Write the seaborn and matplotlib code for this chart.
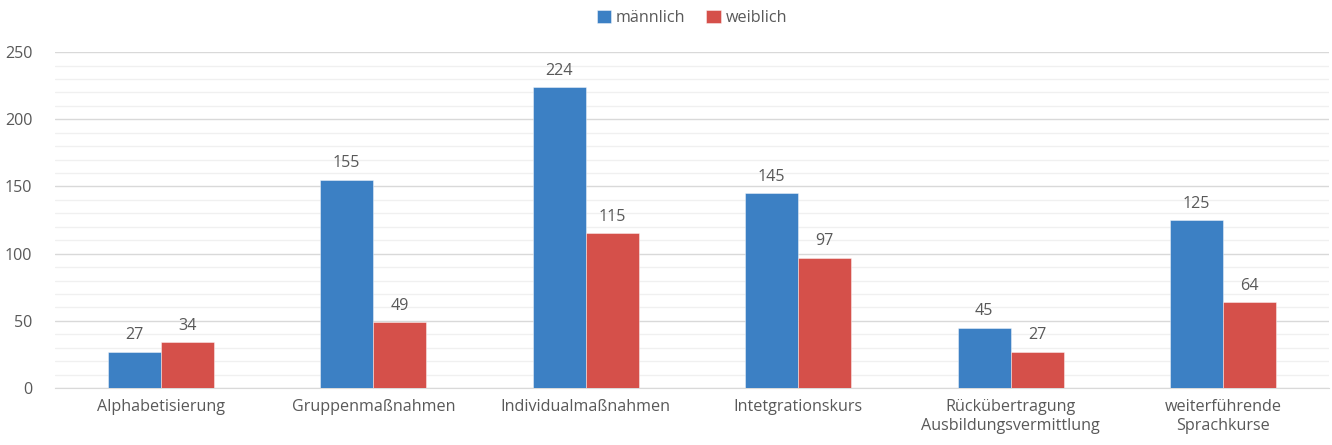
import pandas as pd
import seaborn as sns
import matplotlib.pyplot as plt
from matplotlib.ticker import MultipleLocator

categories = ["Alphabetisierung", "Gruppenmaßnahmen", "Individualmaßnahmen",
              "Intetgrationskurs", "Rückübertragung\nAusbildungsvermittlung",
              "weiterführende\nSprachkurse"]
maennlich = [27, 155, 224, 145, 45, 125]
weiblich = [34, 49, 115, 97, 27, 64]
series = ["männlich", "weiblich"]
colors = ["#3C80C4", "#D5504A"]

df = pd.DataFrame({
    "Kategorie": categories * 2,
    "Wert": maennlich + weiblich,
    "Geschlecht": [series[0]] * len(categories) + [series[1]] * len(categories),
})

sns.set_style("white")
plt.rcParams["font.family"] = ["Open Sans", "DejaVu Sans"]
text_color = "#595959"
fs = 11.6

fig = plt.figure(figsize=(13.32, 4.45), dpi=100)
ax = fig.add_axes([0.041, 0.128, 0.957, 0.755])

sns.barplot(data=df, x="Kategorie", y="Wert", hue="Geschlecht",
            palette=colors, width=0.5, saturation=1, linewidth=0.6,
            edgecolor="#FFFFFF80", ax=ax, zorder=3)

for cont in ax.containers:
    ax.bar_label(cont, padding=6, fontsize=fs, color=text_color)

ax.set_ylim(0, 250)
ax.set_xlim(-0.5, len(categories) - 0.5)
ax.yaxis.set_major_locator(MultipleLocator(50))
ax.yaxis.set_minor_locator(MultipleLocator(10))
ax.grid(axis="y", which="major", color="#D9D9D9", linewidth=1, zorder=0)
ax.grid(axis="y", which="minor", color="#F0F0F0", linewidth=1, zorder=0)
ax.set_axisbelow(True)
sns.despine(ax=ax, left=True, bottom=False)
ax.spines["bottom"].set_color("#D9D9D9")
ax.tick_params(axis="both", which="both", length=0, labelsize=fs, colors=text_color)
ax.tick_params(axis="y", pad=16)
ax.tick_params(axis="x", pad=8)
ax.set_xlabel("")
ax.set_ylabel("")

ax.legend(loc="lower center", bbox_to_anchor=(0.5, 1.035), ncol=2, frameon=False,
          fontsize=fs, labelcolor=text_color, handlelength=0.9, handleheight=0.9,
          handletextpad=0.3, columnspacing=1.3)

fig.savefig("out.png", dpi=100)
